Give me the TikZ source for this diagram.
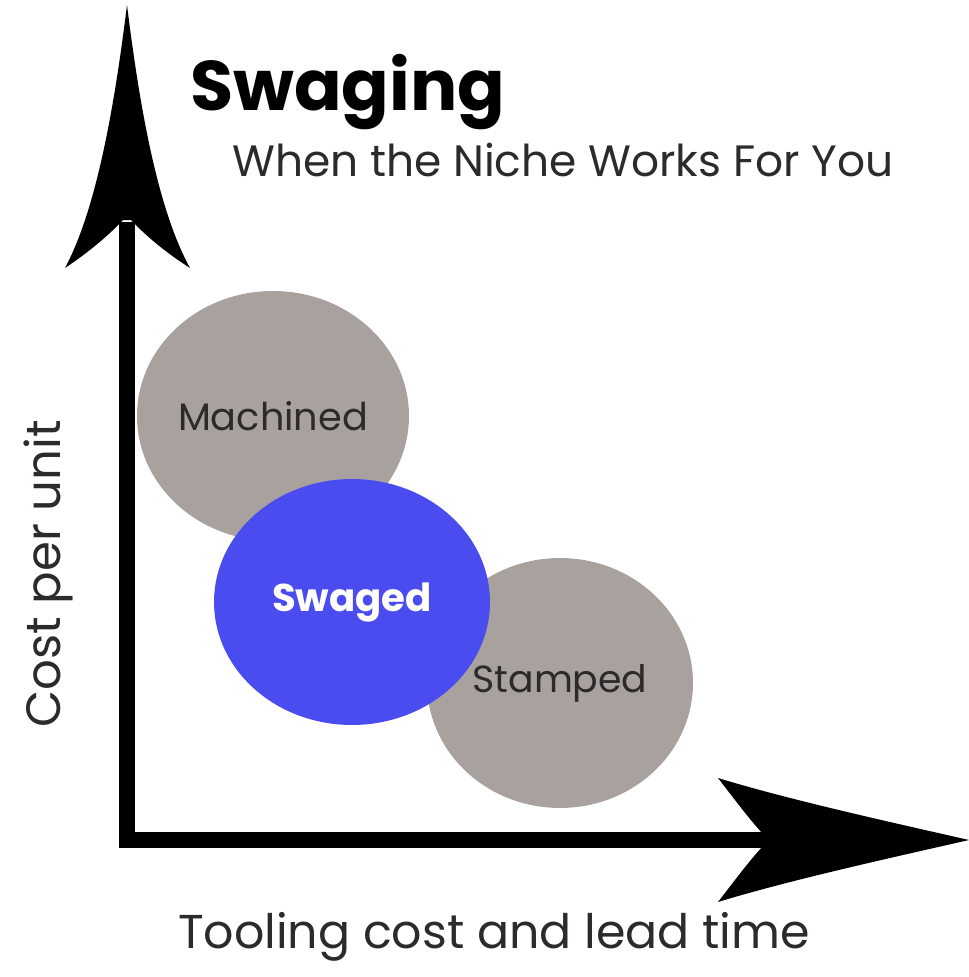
\documentclass[tikz,border=0pt]{standalone}
\usepackage{fontspec}
\setmainfont{Poppins}
\usetikzlibrary{shapes.geometric}
\definecolor{discgray}{RGB}{168,161,158}
\definecolor{discblue}{RGB}{74,76,240}
\definecolor{labeltext}{RGB}{45,42,42}
\newcommand{\fitto}[2]{\resizebox{#1}{!}{#2}}
\begin{document}
\begin{tikzpicture}[x=0.02cm,y=-0.02cm,
  axisline/.style={line width=9pt,line join=miter,black},
  headfill/.style={fill=black},
  disc/.style={ellipse,inner sep=0pt,text=labeltext},
  graydisc/.style={disc,fill=discgray},
  bluedisc/.style={disc,fill=discblue,text=white,font=\bfseries}]
\path[use as bounding box] (0,0) rectangle (969,977);
% axes
\coordinate (ybase) at (127,222);
\coordinate (xbase) at (765,840);
\coordinate (ytip) at (127,5);
\coordinate (xtip) at (969,840);
\draw[axisline] (ybase) |- (xbase);
\fill[headfill] (ytip) .. controls (140,110) and (158,210) .. (190,268)
  .. controls (165,252) and (145,235) .. (131,220) -- (123,220)
  .. controls (109,235) and (89,252) .. (65,268)
  .. controls (96,210) and (114,110) .. (ytip) -- cycle;
\fill[headfill] (xtip) .. controls (890,822) and (790,800) .. (718,778)
  .. controls (735,800) and (750,820) .. (763,834) -- (763,846)
  .. controls (750,860) and (735,880) .. (718,902)
  .. controls (790,880) and (890,858) .. (xtip) -- cycle;
% discs
\node[graydisc,minimum width=5.44cm,minimum height=5.0cm] (machined) at (273,416) {\fitto{3.8cm}{Machined}};
\node[graydisc,minimum width=5.32cm,minimum height=5.0cm] (stamped) at (560,683) {\fitto{3.5cm}{Stamped}};
\node[bluedisc,minimum width=5.52cm,minimum height=4.92cm] (swaged) at (352,602) {\fitto{3.2cm}{Swaged}};
% titles
\node[anchor=base west,inner sep=0pt] (title) at (190,110) {\fitto{6.3cm}{\bfseries Swaging}};
\node[anchor=base west,inner sep=0pt,text=labeltext] (subtitle) at (232,176) {\fitto{13.22cm}{When the Niche Works For You}};
% axis labels
\node[anchor=base,inner sep=0pt,text=labeltext] (xlabel) at (494,948) {\fitto{12.64cm}{Tooling cost and lead time}};
\node[anchor=base,inner sep=0pt,rotate=90,text=labeltext] (ylabel) at (60,574) {\fitto{6.16cm}{Cost per unit}};
\end{tikzpicture}
\end{document}
